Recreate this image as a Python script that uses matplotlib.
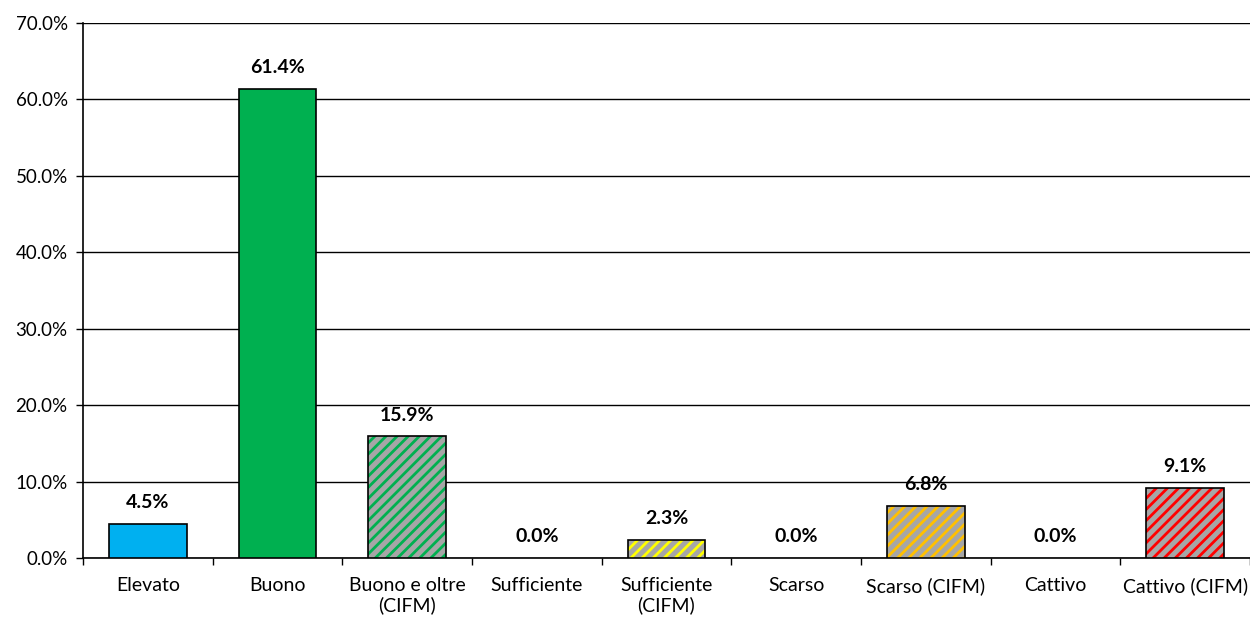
import matplotlib
matplotlib.use('Agg')
import matplotlib.pyplot as plt
import numpy as np

categories = ['Elevato', 'Buono', 'Buono e oltre\n(CIFM)', 'Sufficiente',
              'Sufficiente\n(CIFM)', 'Scarso', 'Scarso (CIFM)', 'Cattivo',
              'Cattivo (CIFM)']
values = [4.5, 61.4, 15.9, 0.0, 2.3, 0.0, 6.8, 0.0, 9.1]
colors = ['#00b0f0', '#00b050', '#00b050', '#ffff00', '#ffff00',
          '#ffc000', '#ffc000', '#ff0000', '#ff0000']
hatched = [False, False, True, False, True, False, True, False, True]

plt.rcParams['font.family'] = ['Lato', 'DejaVu Sans']
plt.rcParams['hatch.linewidth'] = 2.0

fig = plt.figure(figsize=(12.5, 6.21), dpi=100)
ax = fig.add_axes([0.0664, 0.1014, 0.9336, 0.8616])

x = np.arange(len(categories))
w = 0.6
for i, (v, c, h) in enumerate(zip(values, colors, hatched)):
    if v == 0:
        continue
    if h:
        ax.bar(x[i], v, w, color='#a6a6a6', hatch='///', edgecolor=c,
               linewidth=0, zorder=3)
        ax.bar(x[i], v, w, fill=False, edgecolor='black', linewidth=1.2, zorder=4)
    else:
        ax.bar(x[i], v, w, color=c, edgecolor='black', linewidth=1.2, zorder=3)

for i, v in enumerate(values):
    ax.text(x[i], v + 1.7, f'{v:.1f}%', ha='center', va='bottom',
            fontsize=14, fontweight='bold')

ax.set_xlim(-0.5, len(categories) - 0.5)
ax.set_ylim(0, 70)
ax.set_yticks(np.arange(0, 71, 10))
ax.set_yticklabels([f'{t:.1f}%' for t in np.arange(0, 71, 10)], fontsize=13.5)
ax.yaxis.grid(True, color='black', linewidth=1.0, zorder=0)
ax.set_axisbelow(True)

ax.set_xticks(x)
ax.set_xticklabels(categories, fontsize=14, linespacing=1.15)
ax.set_xticks(np.arange(-0.5, len(categories), 1), minor=True)
ax.tick_params(axis='x', which='major', length=0, pad=14)
ax.tick_params(axis='x', which='minor', length=5, width=1, direction='out')
ax.tick_params(axis='y', length=5, width=1, pad=6)

for s in ['top', 'right']:
    ax.spines[s].set_visible(False)
ax.spines['left'].set_linewidth(1.2)
ax.spines['bottom'].set_linewidth(1.2)

fig.savefig('out.png', dpi=100)
